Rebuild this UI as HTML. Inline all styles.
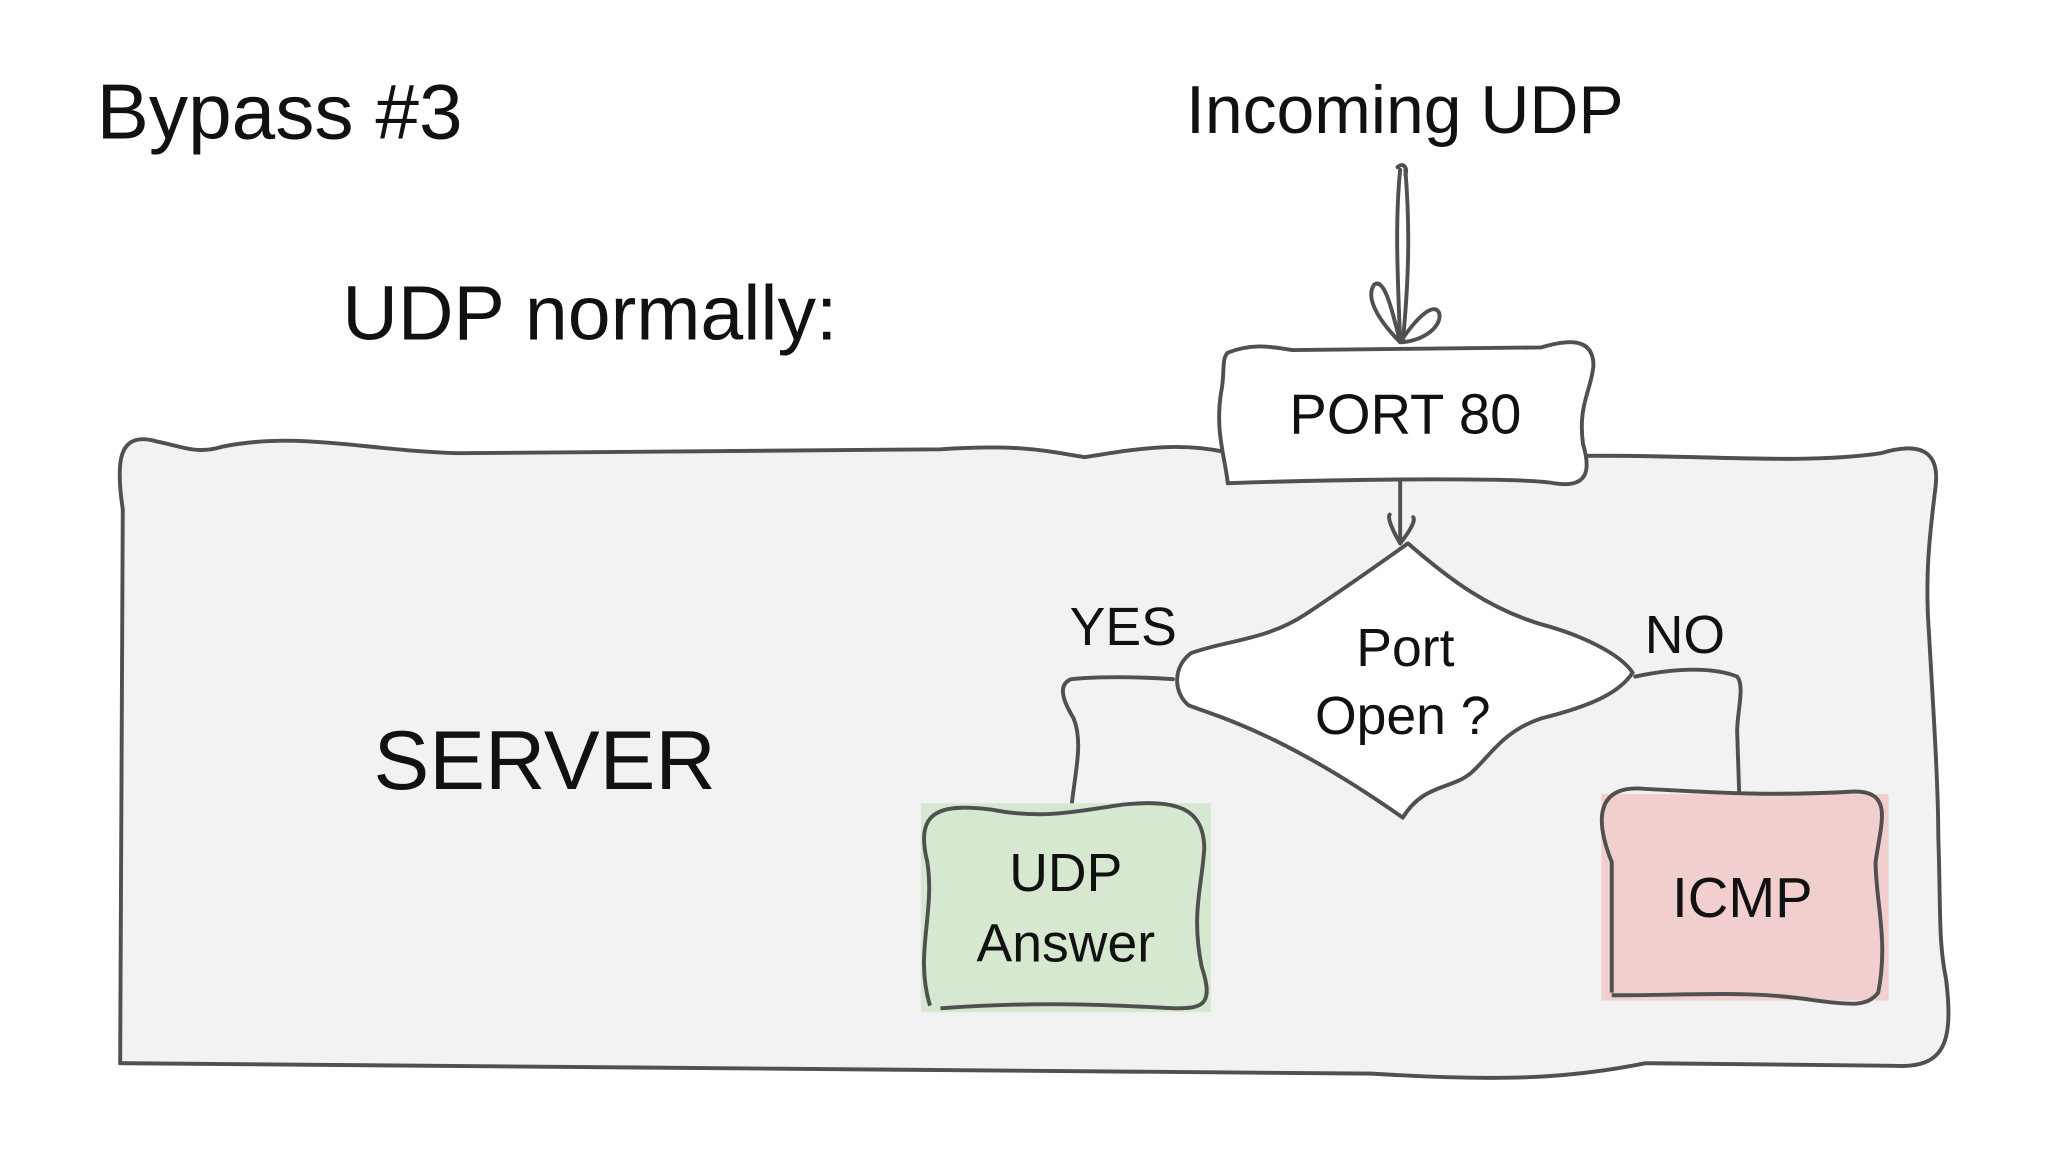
<!DOCTYPE html>
<html><head><meta charset="utf-8"><style>
html,body{margin:0;padding:0;background:#fff;width:2048px;height:1152px;overflow:hidden}
svg{display:block}
text{font-family:"Liberation Sans",Arial,sans-serif;fill:#111}
</style></head><body>
<svg width="2048" height="1152" viewBox="0 0 1568 882" preserveAspectRatio="none" xmlns="http://www.w3.org/2000/svg">
<rect width="1568" height="882" fill="#fff"/>
<g stroke="#505050" stroke-width="3" fill="none" stroke-linecap="round" stroke-linejoin="round">
<!-- server box -->
<path d="M94,390 C88,350 92,330 120,338 C140,342 150,348 170,342 C230,330 280,345 350,347 L720,344 C780,340 800,345 830,350 C870,344 900,338 938,346 L1214,349 C1300,348 1380,356 1440,347 C1470,338 1485,345 1482,372 C1476,420 1475,440 1476,470 C1480,540 1484,600 1484,640 C1486,700 1484,720 1490,750 C1496,800 1488,818 1450,816 L1260,814 C1200,826 1150,828 1050,822 L92,814 Z" fill="#f2f2f2"/>
<!-- incoming arrow -->
<path d="M1072,130 C1068,170 1070,210 1072,262 M1076,130 C1080,180 1078,220 1074,262 M1070,128 C1074,124 1078,128 1076,134"/>
<path d="M1072,262 C1060,250 1044,230 1052,218 C1060,212 1066,238 1072,262 C1084,244 1098,230 1102,240 C1104,252 1086,262 1072,262"/>
<!-- PORT 80 box -->
<path d="M940,270 C960,262 975,266 990,268 L1180,266 C1200,260 1220,258 1220,280 C1218,300 1208,310 1212,340 C1218,360 1216,374 1190,370 C1170,366 1050,366 940,370 C938,350 930,330 935,300 C938,285 935,275 940,270 Z" fill="#fff"/>
<!-- arrow down to diamond -->
<path d="M1072,368 L1072,416 M1072,416 C1066,406 1062,396 1064,394 M1072,416 C1080,406 1084,398 1082,396"/>
<!-- diamond -->
<path d="M912,500 C898,510 898,530 910,540 C930,548 980,560 1074,626 C1090,600 1110,605 1126,592 C1140,580 1150,560 1180,550 C1220,540 1240,530 1250,515 C1240,500 1210,486 1180,478 C1140,466 1110,444 1078,416 C1050,436 1030,450 1000,470 C970,490 940,490 912,500 Z" fill="#fff"/>
<!-- yes line -->
<path d="M898,520 C870,518 840,518 820,520 C808,525 816,540 822,550 C830,570 822,595 820,622"/>
<!-- no line -->
<path d="M1252,518 C1280,512 1310,510 1330,518 C1336,525 1330,545 1330,560 L1332,620"/>
</g>
<!-- UDP Answer box -->
<rect x="705" y="615" width="222" height="160" fill="#d6e8d0"/>
<path d="M712,770 C700,730 716,700 710,660 C700,620 720,615 760,620 C800,628 830,620 860,616 C900,612 922,618 922,650 C920,680 912,700 920,740 C930,770 920,772 900,772 C860,770 800,766 720,772" fill="none" stroke="#505050" stroke-width="3"/>
<!-- ICMP box -->
<rect x="1226" y="608" width="220" height="158" fill="#f2cfcf"/>
<path d="M1234,760 L1234,660 C1222,630 1220,600 1260,604 C1300,606 1350,610 1420,606 C1450,606 1440,630 1436,660 C1436,690 1446,720 1438,760 C1430,770 1420,770 1390,766 C1340,758 1300,762 1234,762" fill="none" stroke="#505050" stroke-width="3"/>
<text x="74" y="106" font-size="60">Bypass #3</text>
<text x="908" y="102" font-size="52">Incoming UDP</text>
<text x="262" y="260" font-size="59">UDP normally:</text>
<text x="1076" y="332" font-size="43" text-anchor="middle">PORT 80</text>
<text x="286" y="604" font-size="64">SERVER</text>
<text x="860" y="494" font-size="41" text-anchor="middle">YES</text>
<text x="1290" y="500" font-size="41" text-anchor="middle">NO</text>
<text x="1076" y="510" font-size="41" text-anchor="middle">Port</text>
<text x="1074" y="562" font-size="41" text-anchor="middle">Open ?</text>
<text x="816" y="682" font-size="41" text-anchor="middle">UDP</text>
<text x="816" y="736" font-size="41" text-anchor="middle">Answer</text>
<text x="1334" y="702" font-size="43" text-anchor="middle">ICMP</text>
</svg>
</body></html>
